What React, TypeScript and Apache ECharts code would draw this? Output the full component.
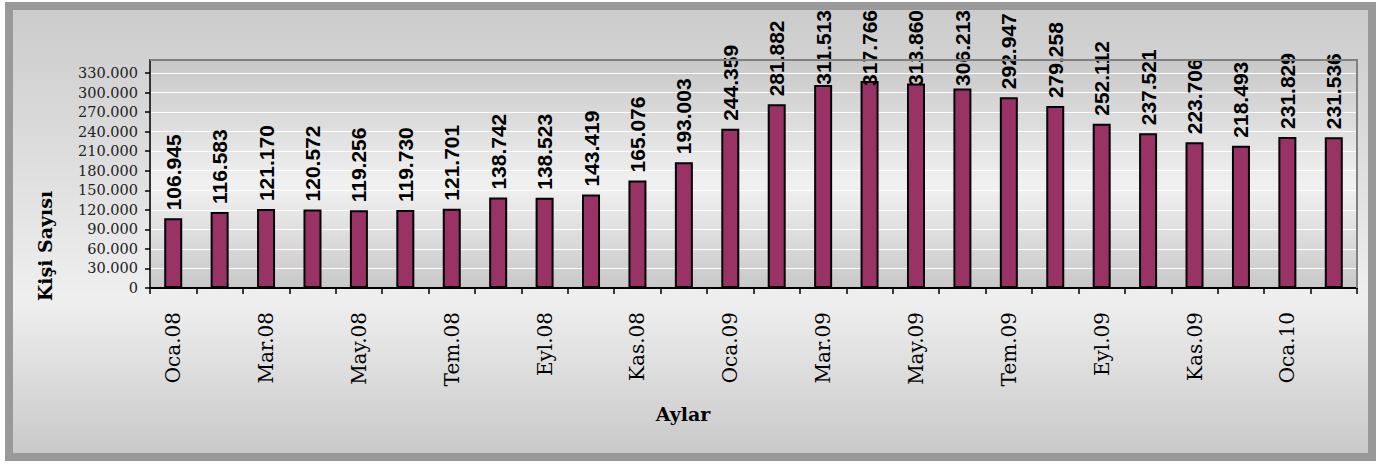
import React, { useEffect, useRef } from "react";
import * as echarts from "echarts";

const categories = [
  "Oca.08", "Şub.08", "Mar.08", "Nis.08", "May.08", "Haz.08", "Tem.08", "Ağu.08", "Eyl.08", "Eki.08", "Kas.08", "Ara.08",
  "Oca.09", "Şub.09", "Mar.09", "Nis.09", "May.09", "Haz.09", "Tem.09", "Ağu.09", "Eyl.09", "Eki.09", "Kas.09", "Ara.09",
  "Oca.10", "Şub.10",
];

const kisiSayisi = [
  106945, 116583, 121170, 120572, 119256, 119730, 121701, 138742, 138523, 143419, 165076, 193003,
  244359, 281882, 311513, 317766, 313860, 306213, 292947, 279258, 252112, 237521, 223706, 218493,
  231829, 231536,
];

const yTicks = [0, 30000, 60000, 90000, 120000, 150000, 180000, 210000, 240000, 270000, 300000, 330000];
const yMax = 350000;

const yTitle = "Kişi Sayısı";
const xTitle = "Aylar";

const fmt = (v: number) => {
  if (v === 0) return "0";
  const k = Math.floor(v / 1000);
  const r = v % 1000;
  return k + "." + String(r).padStart(3, "0");
};

const SERIF = "'DejaVu Serif', serif";
const SANS = "'Liberation Sans', Arial, sans-serif";

export default function App() {
  const ref = useRef<HTMLDivElement>(null);
  useEffect(() => {
    document.body.style.margin = "0";
    const chart = echarts.init(ref.current as HTMLDivElement, null, { renderer: "svg" });
    const option = {
      animation: false,
      backgroundColor: "#ffffff",
      graphic: [
        {
          type: "rect",
          z: -10,
          silent: true,
          shape: { x: 9, y: 6, width: 1363, height: 451 },
          style: {
            fill: new echarts.graphic.LinearGradient(0, 0, 0, 1, [
              { offset: 0, color: "#cbcbcb" },
              { offset: 0.65, color: "#efefef" },
              { offset: 1, color: "#c8c8c8" },
            ]),
            stroke: "#999999",
            lineWidth: 8,
          },
        },
        {
          type: "polyline",
          z: 10,
          silent: true,
          shape: { points: [[150, 60], [1357, 60], [1357, 288]] },
          style: { stroke: "#808080", lineWidth: 2, fill: "none" },
        },
        {
          type: "text",
          z: 10,
          x: 45,
          y: 246,
          rotation: Math.PI / 2,
          style: {
            text: yTitle,
            fontFamily: SERIF,
            fontWeight: "bold",
            fontSize: 19,
            fill: "#000",
            align: "center",
            verticalAlign: "middle",
          },
        },
        {
          type: "text",
          z: 10,
          x: 683,
          y: 414,
          style: {
            text: xTitle,
            fontFamily: SERIF,
            fontWeight: "bold",
            fontSize: 19,
            fill: "#000",
            align: "center",
            verticalAlign: "middle",
          },
        },
      ],
      grid: {
        left: 150,
        right: 20,
        top: 60,
        bottom: 176,
        show: true,
        borderWidth: 0,
        backgroundColor: new echarts.graphic.LinearGradient(0, 0, 0, 1, [
          { offset: 0, color: "#c8c8c8" },
          { offset: 0.55, color: "#f1f1f1" },
          { offset: 1, color: "#c8c8c8" },
        ]),
      },
      xAxis: {
        type: "category",
        data: categories,
        boundaryGap: true,
        axisLine: { show: true, lineStyle: { color: "#000", width: 2 } },
        axisTick: { show: true, interval: 0, length: 6, lineStyle: { color: "#000", width: 1.5 } },
        axisLabel: {
          interval: 1,
          rotate: 90,
          margin: 24,
          fontFamily: SERIF,
          fontSize: 20,
          color: "#000",
        },
        splitLine: { show: false },
      },
      yAxis: {
        type: "value",
        min: 0,
        max: yMax,
        interval: 30000,
        axisLine: { show: true, lineStyle: { color: "#333", width: 2 } },
        axisTick: { show: true, length: 5, customValues: yTicks, lineStyle: { color: "#000", width: 1.5 } },
        axisLabel: {
          customValues: yTicks,
          formatter: (v: number) => fmt(v),
          fontFamily: SERIF,
          fontSize: 14.5,
          color: "#222",
          margin: 12,
        },
        splitLine: { show: true, lineStyle: { color: "#ffffff", width: 1 } },
      },
      series: [
        {
          type: "bar",
          data: kisiSayisi,
          barWidth: 18,
          itemStyle: { color: "#993366", borderColor: "#000", borderWidth: 2 },
          label: {
            show: true,
            position: "top",
            distance: 8,
            rotate: 90,
            align: "left",
            verticalAlign: "middle",
            fontFamily: SANS,
            fontWeight: "bold",
            fontSize: 21,
            color: "#000",
            formatter: (p: any) => fmt(p.value),
          },
          labelLayout: (params: any) => {
            const r = params.labelRect;
            const minTop = 10;
            // label is rotated 90deg: local -x maps to screen +y
            if (r && r.y < minTop) return { dx: -(minTop - r.y) };
            return {};
          },
        },
      ],
    };
    chart.setOption(option as any);
    return () => chart.dispose();
  }, []);
  return <div ref={ref} style={{ width: 1377, height: 464 }} />;
}
